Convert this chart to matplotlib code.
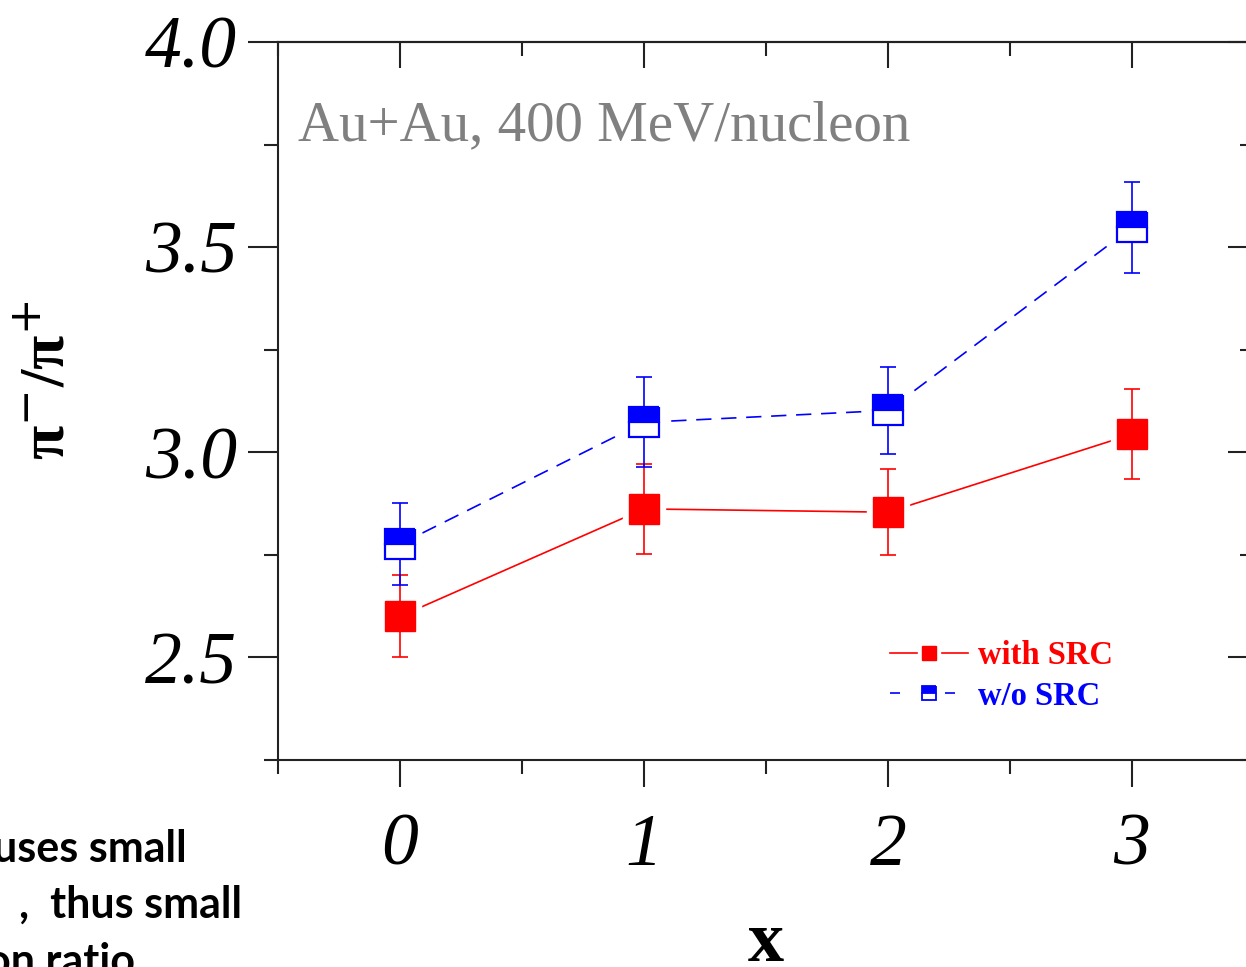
import matplotlib
matplotlib.use('Agg')
import matplotlib.pyplot as plt
from matplotlib.lines import Line2D
from matplotlib.legend_handler import HandlerTuple
from matplotlib.ticker import MultipleLocator, FixedLocator

plt.rcParams['lines.scale_dashes'] = False

# ---- data ----
x_vals = [0, 1, 2, 3]
with_src = [2.60, 2.862, 2.854, 3.044]
with_src_err = [0.10, 0.11, 0.105, 0.11]
wo_src = [2.776, 3.073, 3.102, 3.548]
wo_src_err = [0.10, 0.11, 0.105, 0.11]
xtick_vals = [0, 1, 2, 3]
xtick_labels = ['0', '1', '2', '3']
ytick_vals = [2.5, 3.0, 3.5, 4.0]
ytick_labels = ['2.5', '3.0', '3.5', '4.0']
series_labels = ['with SRC', 'w/o SRC']
annotation = 'Au+Au, 400 MeV/nucleon'
side_lines = ['uses small', ',  thus small', 'on ratio']

W, H = 1246, 967
fig = plt.figure(figsize=(W / 100, H / 100), dpi=100)
ax = fig.add_axes([278 / W, 1 - 760 / H, (1254 - 278) / W, (760 - 42) / H])

serif = 'Liberation Serif'
spine_c = '#222222'
lw = 1.2

# connecting lines
ax.plot(x_vals, with_src, color='red', lw=lw, zorder=2)
ax.plot(x_vals, wo_src, color='blue', lw=lw, ls=(0, (11, 7)), zorder=2)
# white halos to give gaps at markers
for ys in (with_src, wo_src):
    ax.plot(x_vals, ys, ls='none', marker='s', ms=30, color='white', zorder=3)
# error bars
ax.errorbar(x_vals, with_src, yerr=with_src_err, fmt='none', ecolor='red',
            elinewidth=lw, capsize=6, capthick=lw, zorder=4)
ax.errorbar(x_vals, wo_src, yerr=wo_src_err, fmt='none', ecolor='blue',
            elinewidth=lw, capsize=6, capthick=lw, zorder=4)
# markers
ax.plot(x_vals, with_src, ls='none', marker='s', ms=22, mfc='red', mec='red',
        mew=1, zorder=5)
ax.plot(x_vals, wo_src, ls='none', marker='s', ms=21, fillstyle='top',
        mfc='blue', markerfacecoloralt='white', mec='blue', mew=1.6, zorder=5)

ax.set_xlim(-0.5, 3.5)
ax.set_ylim(2.25, 4.0)

for s in ax.spines.values():
    s.set_linewidth(1.5)
    s.set_color(spine_c)

ax.xaxis.set_major_locator(FixedLocator(xtick_vals))
ax.xaxis.set_minor_locator(MultipleLocator(0.5))
ax.yaxis.set_major_locator(FixedLocator(ytick_vals))
ax.yaxis.set_minor_locator(MultipleLocator(0.25))
ax.set_xticklabels(xtick_labels, fontfamily=serif, fontstyle='italic', fontsize=53)
ax.set_yticklabels(ytick_labels, fontfamily=serif, fontstyle='italic', fontsize=53)

ax.tick_params(axis='x', which='major', direction='out', length=19.5, width=1.5,
               color=spine_c, pad=19, top=False)
ax.tick_params(axis='x', which='minor', direction='out', length=10, width=1.5,
               color=spine_c, top=False)
ax.tick_params(axis='y', which='major', direction='out', length=21.6, width=1.5,
               color=spine_c, pad=8, right=False)
ax.tick_params(axis='y', which='minor', direction='out', length=10, width=1.5,
               color=spine_c, right=False)

# inward ticks on top and right
sx = ax.secondary_xaxis('top')
sx.xaxis.set_major_locator(FixedLocator(xtick_vals))
sx.xaxis.set_minor_locator(MultipleLocator(0.5))
sx.tick_params(which='major', direction='in', length=18.7, width=1.5, color=spine_c,
               labeltop=False)
sx.tick_params(which='minor', direction='in', length=10, width=1.5, color=spine_c)
sx.spines['top'].set_linewidth(1.5)
sx.spines['top'].set_color(spine_c)
sy = ax.secondary_yaxis('right')
sy.yaxis.set_major_locator(FixedLocator(ytick_vals))
sy.yaxis.set_minor_locator(MultipleLocator(0.25))
sy.tick_params(which='major', direction='in', length=18.7, width=1.5, color=spine_c,
               labelright=False)
sy.tick_params(which='minor', direction='in', length=10, width=1.5, color=spine_c)

# axis labels
ax.set_ylabel('π$^{-}$/π$^{+}$', fontfamily=serif, fontweight='bold', fontsize=45,
              va='center')
ax.yaxis.set_label_coords((50 - 278) / 976, (760 - 380) / 718)
ax.set_xlabel('x', fontfamily=serif, fontweight='bold', fontsize=52, va='baseline')
ax.xaxis.set_label_coords(0.5, (760 - 961) / 718)

# annotation
ax.text((298 - 278) / 976, (760 - 140) / 718, annotation, transform=ax.transAxes,
        fontfamily=serif, fontsize=41, color='#808080', va='baseline', ha='left')

# legend
h_red = (Line2D([], [], color='red', lw=lw),
         Line2D([], [], ls='none', marker='s', ms=16, color='white'),
         Line2D([], [], ls='none', marker='s', ms=10.5, mfc='red', mec='red'))
h_blue = (Line2D([], [], color='blue', lw=lw, ls=(0, (7.2, 32.4, 7.2, 20))),
          Line2D([], [], ls='none', marker='s', ms=16, color='white'),
          Line2D([], [], ls='none', marker='s', ms=10, fillstyle='top', mfc='blue',
                 markerfacecoloralt='white', mec='blue', mew=1.3))
leg = ax.legend([h_red, h_blue], series_labels,
                handler_map={tuple: HandlerTuple(ndivide=1, pad=0)},
                loc='center left', bbox_to_anchor=((890 - 278) / 976, (760 - 676) / 718),
                frameon=False, borderpad=0, borderaxespad=0, numpoints=1,
                handlelength=2.4, handletextpad=0.3, labelspacing=0.3,
                prop={'family': serif, 'weight': 'bold', 'size': 23.5},
                labelcolor=['red', 'blue'])

# cut-off slide text at lower left
side_pos = [(187, 862), (242, 918), (135, 975)]
for txt, (px, py) in zip(side_lines, side_pos):
    fig.text(px / W, 1 - py / H, txt, ha='right', va='baseline',
             fontfamily='Lato', fontweight='bold', fontsize=31, color='black')

fig.savefig('out.png', dpi=100)
